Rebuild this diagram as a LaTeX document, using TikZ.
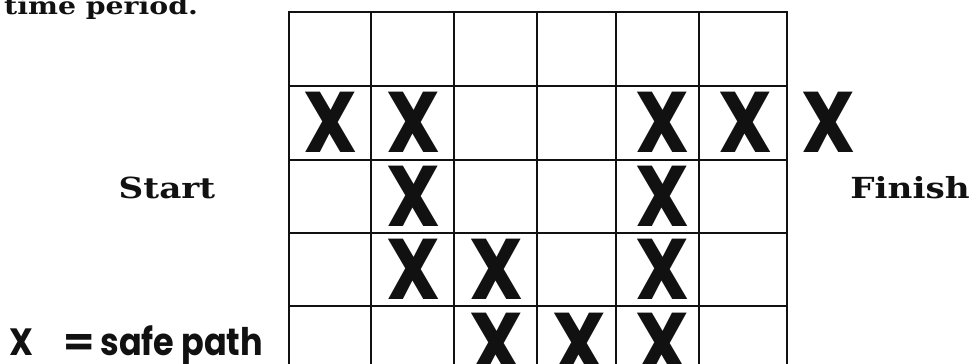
\documentclass[tikz,border=0pt]{standalone}
\usepackage{fontspec}
\newfontfamily\geofont{Poppins}[FakeStretch=0.88]
\newfontfamily\slabfont{DejaVu Serif}[FakeStretch=1.18]
\usepackage{tikz}
\definecolor{ink}{HTML}{111111}

\begin{document}
\begin{tikzpicture}[x=1pt,y=-1pt,
  gridline/.style={ink,line width=1.6pt},
  safe/.style={ink,inner sep=0pt,font=\geofont\bfseries\fontsize{86}{86}\selectfont},
  slab/.style={ink,inner sep=0pt,anchor=base,font=\slabfont\bfseries\fontsize{29}{29}\selectfont}]
  \useasboundingbox (0,0) rectangle (978,364);
  \clip (0,0) rectangle (978,364);

  % Caption cut off at the top
  \node[slab,anchor=base west,font=\slabfont\bfseries\fontsize{24}{24}\selectfont] (caption) at (4,15) {time period.};

  % The grid of cells
  \draw[gridline] (289,12) rectangle (787,380);
  \foreach \gx in {371,454,537,616,699}
    \draw[gridline] (\gx,12) -- (\gx,380);
  \foreach \gy in {86,160,233,306}
    \draw[gridline] (289,\gy) -- (787,\gy);

  % Safe cells
  \foreach \c/\r in {1/2,2/2,5/2,6/2,7/2,2/3,5/3,2/4,3/4,5/4,3/5,4/5,5/5}
    \node[safe] (x\c\r) at ({289+83*(\c-0.5)},{12+73.6*(\r-0.5)}) {X};

  % Ends
  \node[slab] (start) at (167,198) {Start};
  \node[slab] (finish) at (910,198) {Finish};

  % Key
  \node[ink,inner sep=0pt,anchor=base west,font=\geofont\bfseries\fontsize{38}{38}\selectfont] (key) at (9,355) {X\hspace{30pt}\scalebox{1.35}[1]{=}\hspace{6pt}safe path};
\end{tikzpicture}
\end{document}
